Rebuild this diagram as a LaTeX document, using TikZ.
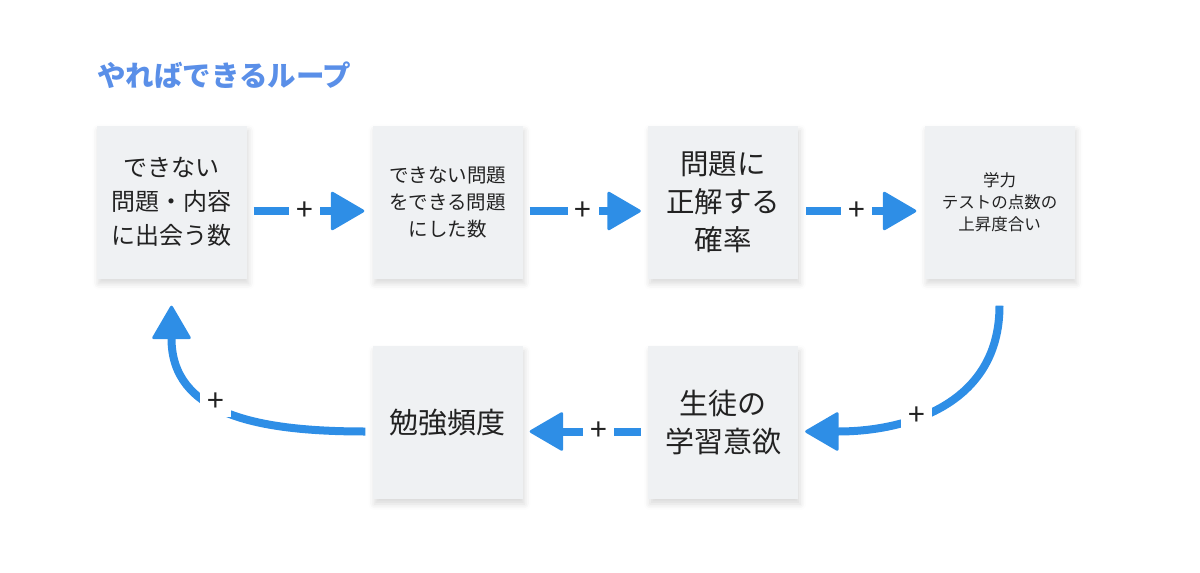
\documentclass[tikz,border=0pt]{standalone}
\usepackage{fontspec}
\setmainfont{Noto Sans CJK JP}
\usetikzlibrary{arrows.meta, positioning, shadows.blur}
\definecolor{loopblue}{HTML}{2E8EE6}
\definecolor{titleblue}{HTML}{5A8FE8}
\definecolor{notefill}{HTML}{EFF1F3}
\definecolor{ink}{HTML}{222222}

\begin{document}
\begin{tikzpicture}[
    x=1pt, y=-1pt,
    note/.style={minimum width=150pt, minimum height=153pt, inner sep=0pt, align=center, text=ink,
        fill=notefill,
        blur shadow={shadow xshift=2pt, shadow yshift=-5pt, shadow blur radius=6pt, shadow opacity=15}},
    link/.style={line width=8pt, draw=loopblue, -{Triangle[length=35pt, width=40pt, line width=3pt, round]}},
    plus/.style={fill=white, inner sep=0pt, minimum width=31pt, minimum height=30pt, text=ink, font=\fontsize{30}{30}\selectfont},
    titletext/.style={anchor=west, inner sep=0pt, text=titleblue, font=\bfseries\fontsize{28.5}{28.5}\selectfont},
]
\useasboundingbox (0,0) rectangle (1200,573);

\node[titletext] (title) at (97,75) {やればできるループ};

% top row
\node[note, font=\fontsize{24}{34}\selectfont] (meet) at (171.5,202) {できない\\問題・内容\\に出会う数};
\node[note, font=\fontsize{19.5}{27}\selectfont] (solved) at (447.5,202) {できない問題\\をできる問題\\にした数};
\node[note, font=\fontsize{28.5}{38}\selectfont] (correct) at (723,202) {問題に\\正解する\\確率};
\node[note, font=\fontsize{16.5}{22}\selectfont] (score) at (999.5,202) {学力\\テストの点数の\\上昇度合い};

% bottom row
\node[note, font=\fontsize{29}{38}\selectfont] (study) at (447.5,422.5) {勉強頻度};
\node[note, font=\fontsize{29}{38}\selectfont] (will) at (723,422.5) {生徒の\\学習意欲};

\draw[link] ([xshift=7pt, yshift=-9pt]meet.east) -- node[plus, pos=0.46] {+} ([xshift=-8pt, yshift=-9pt]solved.west);
\draw[link] ([xshift=7pt, yshift=-9pt]solved.east) -- node[plus, pos=0.48] {+} ([xshift=-7pt, yshift=-9pt]correct.west);
\draw[link] ([xshift=8pt, yshift=-9pt]correct.east) -- node[plus, pos=0.46] {+} ([xshift=-8pt, yshift=-9pt]score.west);

\draw[link] ([yshift=-27pt]score.south) to[out=-90, in=0, looseness=1.1] node[plus, pos=0.6] {+} ([xshift=7pt, yshift=-9pt]will.east);
\draw[link] ([xshift=-7pt, yshift=-9pt]will.west) -- node[plus, pos=0.38] {+} ([xshift=7pt, yshift=-9pt]study.east);
\draw[link] ([xshift=-7pt, yshift=-9pt]study.west) to[out=180, in=-90, looseness=1.2] node[plus, pos=0.56] {+} ([yshift=-27pt]meet.south);

\end{tikzpicture}
\end{document}
